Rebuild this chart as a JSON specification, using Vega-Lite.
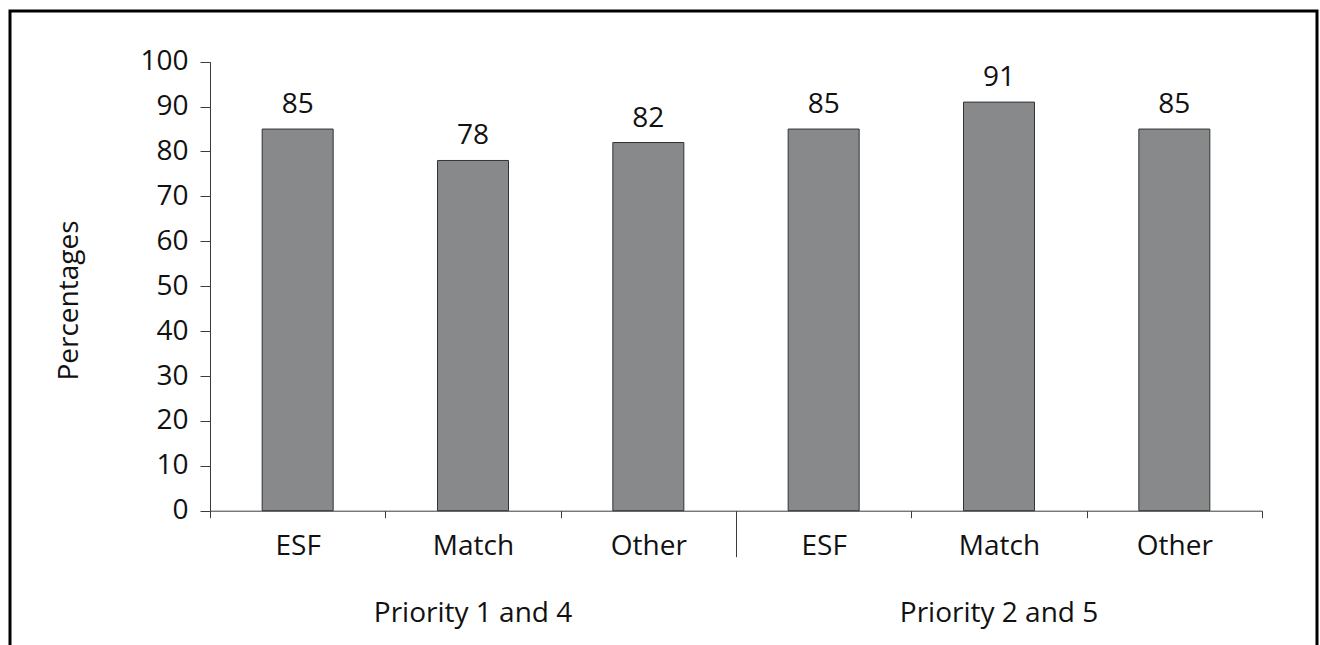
{
  "$schema": "https://vega.github.io/schema/vega-lite/v6.json",
  "autosize": "none",
  "padding": {"left": 10, "top": 11, "right": 3, "bottom": 0},
  "width": 1307,
  "height": 640,
  "background": "white",
  "config": {
    "view": {"stroke": "#000000", "strokeWidth": 3, "fill": "white"},
    "font": "Open Sans",
    "axis": {
      "grid": false,
      "domainColor": "#3c3c3c",
      "domainWidth": 1,
      "tickColor": "#3c3c3c",
      "tickWidth": 1,
      "labelColor": "#111111",
      "labelFont": "Open Sans",
      "labelFontSize": 28,
      "titleFont": "Open Sans",
      "titleFontSize": 28,
      "titleFontWeight": "normal",
      "titleColor": "#111111"
    }
  },
  "data": {
    "values": [
      {"group": "Priority 1 and 4", "category": "ESF", "key": "P14|ESF", "value": 85},
      {"group": "Priority 1 and 4", "category": "Match", "key": "P14|Match", "value": 78},
      {"group": "Priority 1 and 4", "category": "Other", "key": "P14|Other", "value": 82},
      {"group": "Priority 2 and 5", "category": "ESF", "key": "P25|ESF", "value": 85},
      {"group": "Priority 2 and 5", "category": "Match", "key": "P25|Match", "value": 91},
      {"group": "Priority 2 and 5", "category": "Other", "key": "P25|Other", "value": 85}
    ]
  },
  "encoding": {
    "y": {
      "field": "value",
      "type": "quantitative",
      "scale": {"domain": [0, 100], "range": [499.7, 50.7], "nice": false, "zero": true},
      "axis": {
        "orient": "left",
        "offset": -200,
        "values": [0, 10, 20, 30, 40, 50, 60, 70, 80, 90, 100],
        "tickSize": 10,
        "labelPadding": 12,
        "title": "Percentages",
        "titleAngle": 270,
        "titleAlign": "center",
        "titleBaseline": "alphabetic",
        "titleX": -133,
        "titleY": 289
      }
    }
  },
  "layer": [
    {
      "mark": {"type": "bar", "fill": "#88898b", "stroke": "#333333", "strokeWidth": 1, "width": 71},
      "encoding": {
        "x": {
          "field": "key",
          "type": "nominal",
          "sort": null,
          "scale": {"range": [200, 1252], "paddingInner": 0, "paddingOuter": 0},
          "axis": {
            "orient": "bottom",
            "offset": -140.3,
            "tickBand": "extent",
            "tickSize": {"condition": {"test": "datum.value === 'P14|Other'", "value": 46}, "value": 7},
            "labelExpr": "split(datum.value, '|')[1]",
            "labelAngle": 0,
            "labelBaseline": "alphabetic",
            "labelPadding": {"condition": {"test": "datum.value === 'P14|Other'", "value": -2}, "value": 37},
            "title": null
          }
        }
      }
    },
    {
      "mark": {"type": "text", "baseline": "alphabetic", "dy": -16, "fontSize": 28, "color": "#111111", "font": "Open Sans"},
      "encoding": {
        "x": {
          "field": "group",
          "type": "nominal",
          "sort": null,
          "scale": {"range": [200, 1252], "paddingInner": 0, "paddingOuter": 0},
          "axis": {
            "orient": "bottom",
            "offset": -140.3,
            "ticks": false,
            "domain": false,
            "labelAngle": 0,
            "labelBaseline": "alphabetic",
            "labelPadding": 111,
            "labelLimit": 0,
            "title": null
          }
        },
        "xOffset": {
          "field": "category",
          "type": "nominal",
          "sort": null,
          "scale": {"padding": 0.5}
        },
        "text": {"field": "value", "type": "quantitative"}
      }
    }
  ],
  "resolve": {"scale": {"x": "independent"}, "axis": {"x": "independent"}}
}
